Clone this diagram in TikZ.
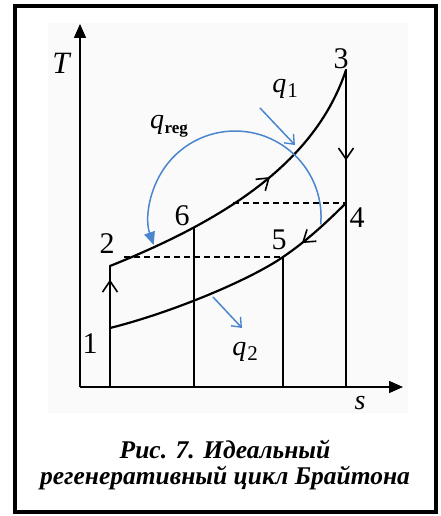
\documentclass[tikz,border=0pt]{standalone}
\usepackage{fontspec}
\setmainfont{Liberation Serif}
\usetikzlibrary{arrows.meta,decorations.markings}
\definecolor{qblue}{RGB}{74,134,206}
\definecolor{bgpanel}{RGB}{250,250,250}
\tikzset{
  axis/.style={line width=1.5pt,-{Triangle[length=14pt,width=12pt]}},
  cycle/.style={line width=2.2pt,line cap=round,line join=round},
  thin/.style={line width=1.2pt},
  dashline/.style={line width=1.3pt,dash pattern=on 6pt off 4pt},
  heat/.style={qblue,line width=1.5pt},
  barb/.style={-{Straight Barb[length=8pt,width=13pt,line width=1.4pt]}},
  midarrow/.style={postaction={decorate},decoration={markings,
    mark=at position #1 with {\arrow{Straight Barb[length=11pt,width=15pt,line width=1.6pt]}}}},
  lab/.style={font=\fontsize{30}{32}\selectfont,inner sep=0pt},
  qlab/.style={font=\fontsize{28}{32}\selectfont\itshape,inner sep=0pt},
  caption/.style={font=\fontsize{25.5}{26}\selectfont\bfseries\itshape,align=center,inner sep=0pt}
}
\begin{document}
\begin{tikzpicture}[x=1pt,y=-1pt]
\useasboundingbox (0,0) rectangle (440,516);
\fill[white] (0,0) rectangle (440,516);
\fill[bgpanel] (48,23) rectangle (408,413);
\draw[line width=4pt] (15,6) rectangle (436,512);

% key points
\coordinate (O) at (80,387);
\coordinate (Ttop) at (80,24);
\coordinate (Send) at (403,387);
\coordinate (P1) at (110,328);
\coordinate (P2) at (110,266);
\coordinate (P3) at (346,70);
\coordinate (P4) at (346,203);
\coordinate (P5) at (283,257);
\coordinate (P6) at (194,228);
\coordinate (D2) at (124,257);
\coordinate (D6) at (233,203);

% thin verticals
\draw[thin] (P1) -- (P1 |- O);
\draw[thin] (P6) -- (P6 |- O);
\draw[thin] (P5) -- (P5 |- O);
\draw[thin] (P4) -- (P4 |- O);

% dashed lines
\draw[dashline] (D2) -- (P5);
\draw[dashline] (D6) -- (P4);

% axes
\draw[axis] (O) -- (Ttop);
\draw[axis] (O) -- (Send);

% cycle
\draw[cycle,midarrow=0.78] (P1) -- (P2);
\draw[cycle,midarrow=0.58] (P2) .. controls (230,218) and (316,160) .. (P3);
\draw[cycle,midarrow=0.68] (P3) -- (P4);
\draw[cycle,midarrow=0.22] (P4) .. controls (324,225) and (305,242) .. (P5)
  .. controls (248,281) and (170,313) .. (P1);

% heat arrows
\coordinate (q1s) at (260,108);
\coordinate (q1e) at (295,145);
\draw[heat,barb] (q1s) -- (q1e);
\coordinate (q2s) at (213,297);
\coordinate (q2e) at (242,328);
\draw[heat,barb] (q2s) -- (q2e);
\coordinate (rs) at (320.7,224.5);
\draw[heat,-{Triangle[length=13pt,width=11pt]}] (rs) arc[start angle=5,end angle=-199,radius=86];

% labels
\node[lab,font=\fontsize{31}{32}\selectfont\itshape] (T) at (61,63) {T};
\node[lab] (l3) at (341,59) {3};
\node[lab] (l6) at (182,216) {6};
\node[lab] (l4) at (357,218) {4};
\node[lab] (l5) at (279,240) {5};
\node[lab] (l2) at (107,244) {2};
\node[lab] (l1) at (90,344) {1};
\node[lab,font=\fontsize{28}{32}\selectfont\itshape] (s) at (360,403) {s};
\node[qlab] (q1) at (285,89) {q\kern1pt\raisebox{-5pt}{\upshape\fontsize{21}{21}\selectfont 1}};
\node[qlab] (q2) at (245,352) {q\kern1pt\raisebox{-5pt}{\upshape\fontsize{21}{21}\selectfont 2}};
\node[qlab] (qr) at (169,126) {q\kern0.5pt\raisebox{-5pt}{\upshape\bfseries\fontsize{17}{17}\selectfont reg}};

\node[caption] (cap) at (225,465) {Рис. 7. Идеальный\\регенеративный цикл Брайтона};
\end{tikzpicture}
\end{document}
